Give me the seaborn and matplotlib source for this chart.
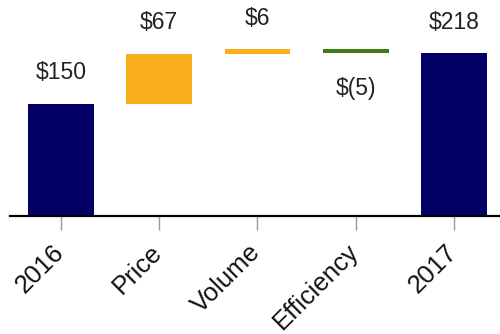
import matplotlib
matplotlib.use("Agg")
import matplotlib.pyplot as plt
import matplotlib.transforms as mtransforms
import seaborn as sns
import pandas as pd

# Waterfall: 2016 -> 2017 bridge
categories = ["2016", "Price", "Volume", "Efficiency", "2017"]
changes = [150, 67, 6, -5, 218]
bases = [0, 150, 217, 223, 0]
value_labels = ["$150", "$67", "$6", "$(5)", "$218"]
colors = ["#020066", "#F8AD1D", "#F8AD1D", "#3E7E12", "#020066"]

df = pd.DataFrame({"category": categories, "change": changes, "base": bases})

sns.set_style("white")
plt.rcParams["font.family"] = ["Liberation Sans", "DejaVu Sans"]

fig = plt.figure(figsize=(5.0, 3.34), dpi=100)
ax = fig.add_axes([0.02, 0.353, 0.98, 0.647])

sns.barplot(data=df, x="category", y="change", bottom=df["base"].values,
            order=categories, width=0.67, linewidth=0, saturation=1,
            color=colors[0], ax=ax)
for patch, c in zip(ax.patches, colors):
    patch.set_facecolor(c)
    patch.set_edgecolor(c)

for i, (val, base, lab) in enumerate(zip(changes, bases, value_labels)):
    if val >= 0:
        ax.annotate(lab, (i, base + val), xytext=(0, 14), textcoords="offset points",
                    ha="center", va="bottom", fontsize=16.5, color="#222222",
                    annotation_clip=False)
    else:
        ax.annotate(lab, (i, base + val), xytext=(0, -17), textcoords="offset points",
                    ha="center", va="top", fontsize=16.5, color="#222222",
                    annotation_clip=False)

ax.set_xlim(-0.52, 4.47)
ax.set_ylim(0, 289)
ax.set_xlabel("")
ax.set_ylabel("")
ax.set_yticks([])
for s in ["top", "right", "left"]:
    ax.spines[s].set_visible(False)
ax.spines["bottom"].set_color("black")
ax.spines["bottom"].set_linewidth(1.6)
ax.tick_params(axis="x", which="major", bottom=True, length=10, width=1,
               color="#999999", pad=7, labelsize=18.5, labelcolor="#111111")
shift = mtransforms.ScaledTranslation(-9 / 100, 0, fig.dpi_scale_trans)
for t in ax.get_xticklabels():
    t.set_rotation(45)
    t.set_ha("right")
    t.set_va("top")
    t.set_rotation_mode("anchor")
    t.set_transform(t.get_transform() + shift)

fig.savefig("out.png", dpi=100)
